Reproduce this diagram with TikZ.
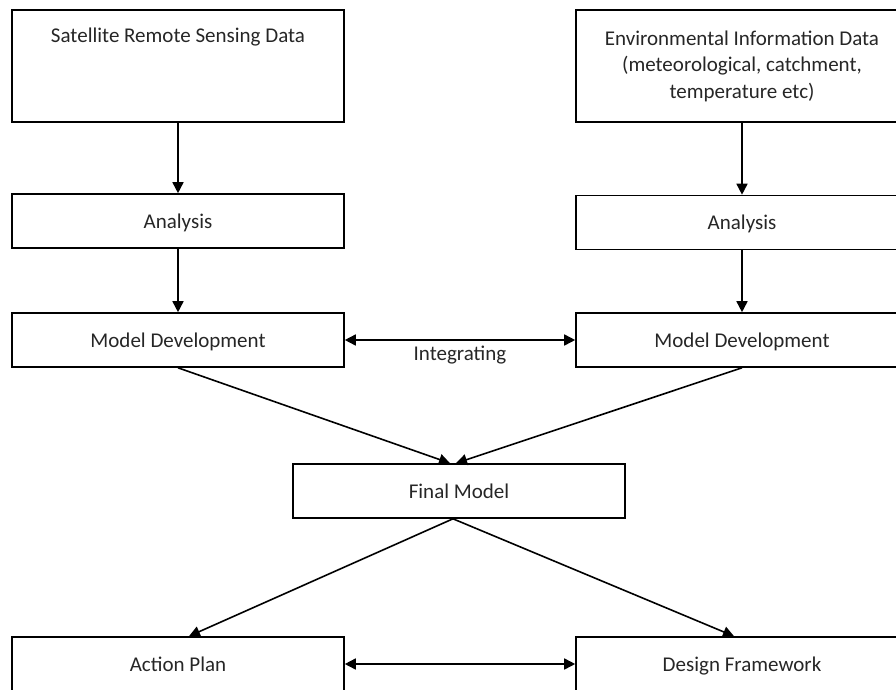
\documentclass[tikz,border=0pt]{standalone}
\usepackage{fontspec}
\setmainfont{Carlito}
\usetikzlibrary{arrows.meta, positioning, calc}

\begin{document}
\begin{tikzpicture}[
    x=1pt, y=-1pt,
    font=\fontsize{21}{26.5}\selectfont,
    frame/.style={rectangle, draw, line width=1.6pt, text=black!85, minimum width=332pt, inner sep=0pt, align=center},
    box/.style={frame, minimum height=54pt, text height=16pt, text depth=2pt},
    bigbox/.style={frame, minimum height=112pt},
    arr/.style={line width=1.6pt, -{Triangle[length=11pt, width=11pt]}},
    dbl/.style={line width=1.6pt, {Triangle[length=11pt, width=11pt]}-{Triangle[length=11pt, width=11pt]}}
]
\clip (0,0) rectangle (896,690);
% data sources
\node [bigbox] (sat) at (178,66) {};
\node [text=black!85] (sattext) at (178,37) {Satellite Remote Sensing Data};
\node [bigbox] (env) at (742,66) {Environmental Information Data\\(meteorological, catchment,\\temperature etc)};
% analysis and models
\node [box] (ana1) at (178,221) {Analysis};
\node [box] (ana2) at (742,222.5) {Analysis};
\node [box] (md1) at (178,340) {Model Development};
\node [box] (md2) at (742,340) {Model Development};
\node [box] (fin) at (459,491) {Final Model};
% outcomes
\node [box] (act) at (178,664) {Action Plan};
\node [box] (des) at (742,664) {Design Framework};

\draw [arr] (sat.south) -- (ana1.north);
\draw [arr] (env.south) -- (ana2.north);
\draw [arr] (ana1.south) -- (md1.north);
\draw [arr] (ana2.south) -- (md2.north);
\draw [dbl] (md1) -- node [below=2pt, text=black!85] (integ) {Integrating} (md2);
\draw [arr] (md1.south) -- ([xshift=-9pt]fin.north);
\draw [arr] (md2.south) -- ([xshift=-3pt]fin.north);
\draw [arr] ([xshift=-6pt]fin.south) -- ([xshift=11pt]act.north);
\draw [arr] ([xshift=-6pt]fin.south) -- ([xshift=-8pt]des.north);
\draw [dbl] (act) -- (des);
\end{tikzpicture}
\end{document}
